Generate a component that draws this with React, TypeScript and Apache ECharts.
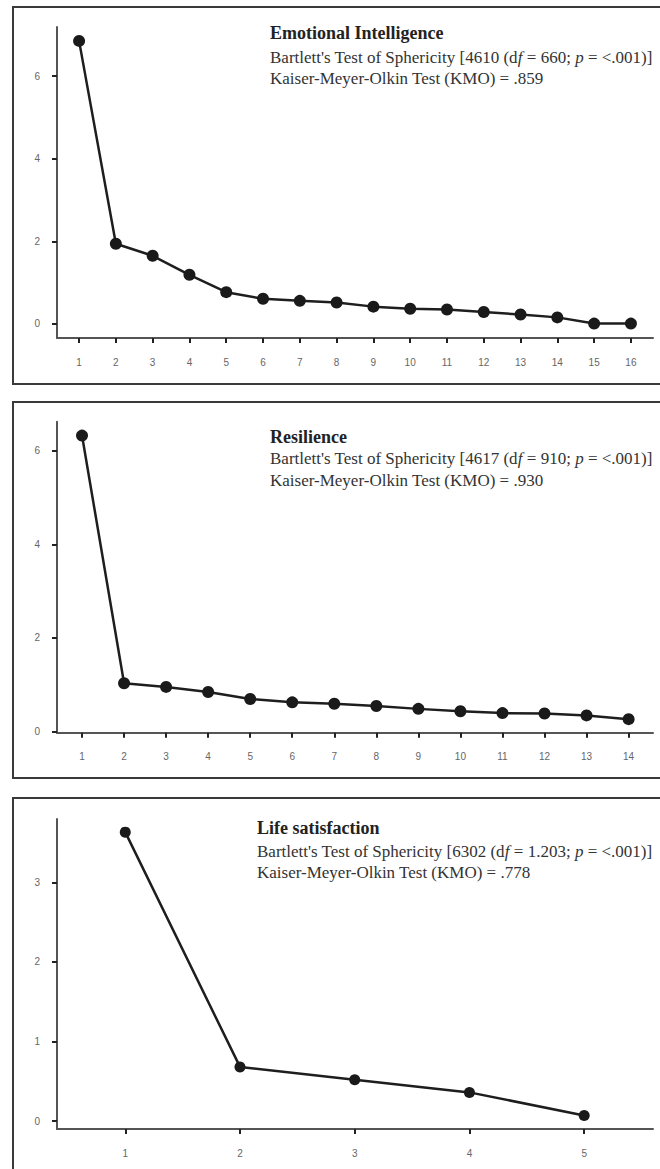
import React, { useEffect, useRef } from "react";
import * as echarts from "echarts";

// Scree plot data (eigenvalues)
const eiFactors = [1, 2, 3, 4, 5, 6, 7, 8, 9, 10, 11, 12, 13, 14, 15, 16];
const eiValues = [6.85, 1.94, 1.65, 1.19, 0.77, 0.61, 0.56, 0.52, 0.42, 0.37, 0.35, 0.29, 0.23, 0.16, 0.01, 0.01];

const resFactors = [1, 2, 3, 4, 5, 6, 7, 8, 9, 10, 11, 12, 13, 14];
const resValues = [6.33, 1.03, 0.95, 0.84, 0.69, 0.62, 0.59, 0.54, 0.48, 0.43, 0.39, 0.38, 0.34, 0.26];

const lsFactors = [1, 2, 3, 4, 5];
const lsValues = [3.63, 0.68, 0.52, 0.36, 0.07];

const eiYTicks = [0, 2, 4, 6];
const resYTicks = [0, 2, 4, 6];
const lsYTicks = [0, 1, 2, 3];

const titles = ["Emotional Intelligence", "Resilience", "Life satisfaction"];
const bartlett = [
  { chi: "4610", df: "660" },
  { chi: "4617", df: "910" },
  { chi: "6302", df: "1.203" },
];
const kmo = [".859", ".930", ".778"];

export default function App() {
  const ref = useRef<HTMLDivElement>(null);

  useEffect(() => {
    if (!ref.current) return;
    const chart = echarts.init(ref.current, undefined, { renderer: "svg" });

    const panels = [
      { factors: eiFactors, values: eiValues, yTicks: eiYTicks, top: 27, height: 311, xMin: 0.4, xMax: 16.6, yMin: -0.339, yMax: 7.186, sym: 12 },
      { factors: resFactors, values: resValues, yTicks: resYTicks, top: 421.7, height: 311, xMin: 0.405, xMax: 14.58, yMin: -0.03, yMax: 6.627, sym: 12 },
      { factors: lsFactors, values: lsValues, yTicks: lsYTicks, top: 819, height: 310, xMin: 0.405, xMax: 5.6, yMin: -0.1, yMax: 3.795, sym: 11 },
    ];

    const boxes = [
      { y: 7, h: 377 },
      { y: 402, h: 376 },
      { y: 798, h: 420 },
    ];
    const textPos = [
      { x: 270, y: [33, 57, 78] },
      { x: 270, y: [437, 458, 480] },
      { x: 257, y: [828, 851, 872] },
    ];

    const serif = "'Liberation Serif', 'Times New Roman', serif";
    const sans = "'Liberation Sans', Arial, sans-serif";
    const graphic: any[] = [];
    boxes.forEach((b) => {
      graphic.push({
        type: "rect",
        shape: { x: 13, y: b.y, width: 700, height: b.h },
        style: { fill: "none", stroke: "#3a3a3a", lineWidth: 2 },
        z: 0,
      });
    });
    textPos.forEach((t, i) => {
      graphic.push({
        type: "text",
        x: t.x,
        y: t.y[0],
        style: {
          text: titles[i],
          font: `bold 18px ${serif}`,
          fill: "#222",
          verticalAlign: "middle",
        },
      });
      graphic.push({
        type: "text",
        x: t.x,
        y: t.y[1],
        style: {
          text: `{n|Bartlett's Test of Sphericity [${bartlett[i].chi} (d}{i|f}{n| = ${bartlett[i].df}; }{i|p}{n| = <.001)]}`,
          rich: {
            n: { fontFamily: serif, fontSize: 17, fill: "#333" },
            i: { fontFamily: serif, fontSize: 17, fontStyle: "italic", fill: "#333" },
          },
          verticalAlign: "middle",
        },
      });
      graphic.push({
        type: "text",
        x: t.x,
        y: t.y[2],
        style: {
          text: `Kaiser-Meyer-Olkin Test (KMO) = ${kmo[i]}`,
          font: `17px ${serif}`,
          fill: "#333",
          verticalAlign: "middle",
        },
      });
    });

    const grid = panels.map((p) => ({ left: 57, right: 7, top: p.top, height: p.height }));
    const xAxis = panels.map((p, i) => ({
      type: "value",
      gridIndex: i,
      min: p.xMin,
      max: p.xMax,
      splitLine: { show: false },
      axisLine: { show: true, onZero: false, lineStyle: { color: "#555", width: 2 } },
      axisTick: { show: true, length: 5, customValues: p.factors, lineStyle: { color: "#222", width: 2 } },
      axisLabel: {
        show: true,
        customValues: p.factors,
        margin: 19,
        fontSize: 10,
        color: "#666",
        fontFamily: sans,
      },
    }));
    const yAxis = panels.map((p, i) => ({
      type: "value",
      gridIndex: i,
      min: p.yMin,
      max: p.yMax,
      splitLine: { show: false },
      axisLine: { show: true, onZero: false, lineStyle: { color: "#555", width: 2 } },
      axisTick: { show: true, length: 5, customValues: p.yTicks, lineStyle: { color: "#222", width: 2 } },
      axisLabel: {
        show: true,
        customValues: p.yTicks,
        margin: 17,
        fontSize: 10,
        color: "#666",
        fontFamily: sans,
      },
    }));
    const series = panels.map((p, i) => ({
      type: "line",
      xAxisIndex: i,
      yAxisIndex: i,
      data: p.factors.map((f, k) => [f, p.values[k]]),
      symbol: "circle",
      symbolSize: p.sym,
      showSymbol: true,
      lineStyle: { color: "#1e1e1e", width: 2.5 },
      itemStyle: { color: "#1a1a1a" },
      z: 3,
    }));

    chart.setOption({
      animation: false,
      backgroundColor: "#fff",
      grid,
      xAxis,
      yAxis,
      series,
      graphic,
    });

    return () => chart.dispose();
  }, []);

  return (
    <div
      ref={ref}
      style={{ position: "absolute", left: 0, top: 0, width: 660, height: 1169 }}
    />
  );
}
